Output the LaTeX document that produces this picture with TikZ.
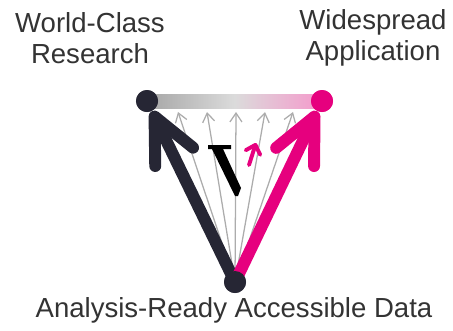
\documentclass[tikz,border=0pt]{standalone}
\usepackage{fontspec}
\setmainfont{Liberation Sans}
\usetikzlibrary{arrows.meta}
\definecolor{inkdark}{RGB}{38,38,52}
\definecolor{inkpink}{RGB}{230,0,126}
\definecolor{inkgray}{RGB}{172,172,172}
\definecolor{inktext}{RGB}{51,51,51}
\begin{document}
\begin{tikzpicture}[x=0.025cm,y=-0.025cm]
    \tikzset{label text/.style={text=inktext, font=\fontsize{19.6pt}{22.5pt}\selectfont, align=center}}
    \tikzset{end dot/.style={circle, fill=#1, inner sep=0pt, minimum size=0.55cm}}
    \tikzset{big arrow/.style={draw=#1, line width=8.5pt, line cap=round, line join=round,
        -{Straight Barb[length=1.12cm, width=1.05cm, line cap=round, line join=round]}}}
    \tikzset{thin arrow/.style={draw=inkgray, line width=0.9pt,
        -{Straight Barb[length=0.22cm, width=0.3cm]}}}
    \useasboundingbox (0,0) rectangle (453,330);
    \node[label text] (research) at (90,38) {World-Class\\Research};
    \node[label text] (application) at (373,38) {Widespread\\Application};
    \node[label text] (data) at (234,310) {Analysis-Ready Accessible Data};
    \shade[left color=gray!70, right color=inkpink!40, middle color=gray!28] (147,94) rectangle (322,108);
    \node[end dot=inkdark] (res) at (147,101) {};
    \node[end dot=inkpink] (app) at (322,101) {};
    \node[end dot=inkdark] (src) at (235,282) {};
    \foreach \x [count=\i] in {178,207,236,265,293}
    {
        \coordinate (g\i) at (\x,112);
        \draw[thin arrow] (src.center) -- (g\i);
    }
    \draw[big arrow=inkdark] (src.center) -- (res);
    \draw[big arrow=inkpink] (src.center) -- (app);
    \fill[black] (208,145) -- (231,145) -- (231,149) -- (223,149) -- (241,188)
        -- (238,196) -- (235,196) -- (212,149) -- (208,149) -- cycle;
    \draw[inkpink, line width=2.8pt, line cap=round, line join=round,
        -{Straight Barb[length=0.2cm, width=0.38cm, line cap=round, line join=round]}] (249,165) -- (256,143);
    \node[end dot=inkdark] at (src) {};
    \node[end dot=inkdark] at (res) {};
    \node[end dot=inkpink] at (app) {};
\end{tikzpicture}
\end{document}
